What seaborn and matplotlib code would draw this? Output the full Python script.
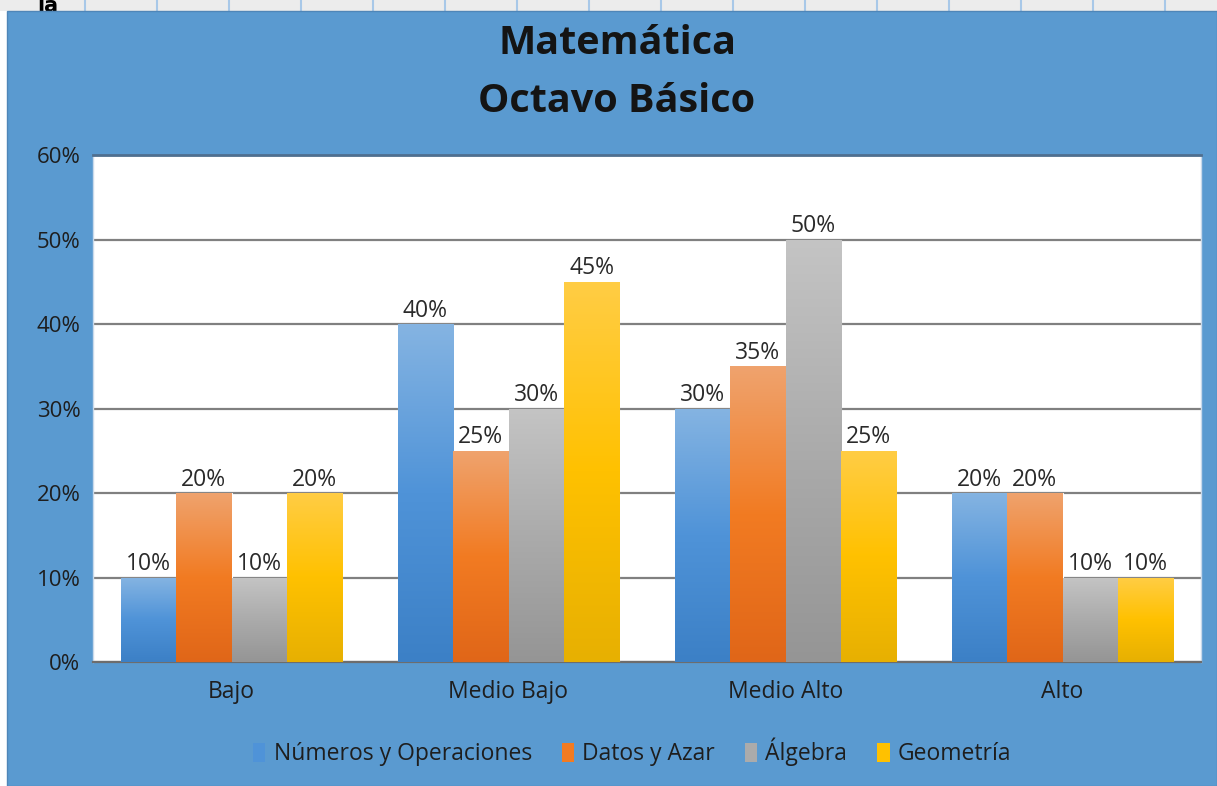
import numpy as np
import pandas as pd
import seaborn as sns
import matplotlib
matplotlib.use("Agg")
import matplotlib.pyplot as plt
from matplotlib.colors import LinearSegmentedColormap
from matplotlib.patches import Rectangle
from matplotlib.lines import Line2D

categories = ["Bajo", "Medio Bajo", "Medio Alto", "Alto"]
series = ["Números y Operaciones", "Datos y Azar", "Álgebra", "Geometría"]
numeros = [10, 40, 30, 20]
datos = [20, 25, 35, 20]
algebra = [10, 30, 50, 10]
geometria = [20, 45, 25, 10]
y_ticks = [0, 10, 20, 30, 40, 50, 60]

# gradient colours per series: top, middle, bottom
grads = {
    "Números y Operaciones": ["#85b4e2", "#4f93d8", "#3c80c6"],
    "Datos y Azar": ["#efa36e", "#f27b22", "#e06618"],
    "Álgebra": ["#c4c4c4", "#ababab", "#959595"],
    "Geometría": ["#ffcd45", "#ffc100", "#e7b002"],
}
solid = {k: v[1] for k, v in grads.items()}

rows = []
for name, vals in zip(series, [numeros, datos, algebra, geometria]):
    for cat, v in zip(categories, vals):
        rows.append({"nivel": cat, "eje": name, "pct": v})
df = pd.DataFrame(rows)

sns.set_theme(style="white")
plt.rcParams["font.family"] = ["Open Sans", "DejaVu Sans"]
FS = 16.5

W, H = 1217, 786
fig = plt.figure(figsize=(W / 100, H / 100), dpi=100, facecolor="white")

# spreadsheet strip behind the chart
fig.patches.append(Rectangle((0, 1 - 11 / H), 1, 11 / H, transform=fig.transFigure,
                             facecolor="#ececec", edgecolor="none", zorder=-3))
for px in range(85, W, 72):
    fig.lines.append(Line2D([px / W, px / W], [1 - 11 / H, 1], transform=fig.transFigure,
                            color="#a8c8e8", lw=1.5, zorder=-2.5))
fig.text(37 / W, 1 - 16 / H, "la", fontsize=15, fontweight="bold", color="black",
         family="DejaVu Sans", ha="left", va="bottom", zorder=-2.2)
# chart area
fig.patches.append(Rectangle((7 / W, 0), 1 - 7 / W, 1 - 11 / H, transform=fig.transFigure,
                             facecolor="#5a9ad0", edgecolor="#4f86b8", lw=1, zorder=-1))

ax = fig.add_axes([93 / W, 1 - 662 / H, (1201 - 93) / W, (662 - 155) / H])
ax.set_facecolor("white")

sns.barplot(data=df, x="nivel", y="pct", hue="eje", order=categories, hue_order=series,
            palette=solid, width=0.8, ax=ax, legend=False, errorbar=None,
            edgecolor="white", linewidth=0.8, zorder=3)

ax.set_ylim(0, 60)
ax.set_yticks(y_ticks)
ax.set_yticklabels([f"{t}%" for t in y_ticks], fontsize=FS - 0.5, color="#1e1e1e")
ax.set_xlabel("")
ax.set_ylabel("")
ax.tick_params(axis="x", labelsize=FS, colors="#1e1e1e", length=0, pad=13)
ax.tick_params(axis="y", length=0, pad=9)
ax.yaxis.grid(True, color="#808080", lw=1.6, zorder=0)
ax.set_axisbelow(True)
for side in ["left", "right"]:
    ax.spines[side].set_color("#c9d9ea")
    ax.spines[side].set_linewidth(1)
ax.spines["top"].set_color("#4f6f8f")
ax.spines["top"].set_linewidth(2)
ax.spines["bottom"].set_color("#6d6d6d")
ax.spines["bottom"].set_linewidth(1.6)

# gradient fills + value labels
grad_img = np.linspace(0, 1, 256).reshape(-1, 1)
for container, name in zip(ax.containers, series):
    cmap = LinearSegmentedColormap.from_list(name, grads[name][::-1])
    for bar in container:
        x0, w = bar.get_x(), bar.get_width()
        h = bar.get_height()
        im = ax.imshow(grad_img, cmap=cmap, origin="lower", aspect="auto",
                       extent=[x0, x0 + w, 0, h], zorder=3.5)
        im.set_clip_path(bar)
    ax.bar_label(container, labels=[f"{int(round(b.get_height()))}%" for b in container],
                 fontsize=FS, color="#2a2a2a", padding=1)
ax.set_xlim(-0.5, len(categories) - 0.5)
ax.set_ylim(0, 60)

for ty, txt in [(43, "Matemática"), (101, "Octavo Básico")]:
    fig.text(617 / W, 1 - ty / H, txt, fontsize=28.5, fontweight="bold", family="Open Sans",
             color="#141414", ha="center", va="center")

handles = [Rectangle((0, 0), 1, 1, facecolor=solid[s], edgecolor="none") for s in series]
fig.legend(handles, series, loc="center", bbox_to_anchor=(632 / W, 1 - 752 / H), ncol=4,
           frameon=False, fontsize=FS, handlelength=0.55, handleheight=0.9,
           handletextpad=0.35, columnspacing=1.3, labelcolor="#1e1e1e")

fig.savefig("out.png", dpi=100, facecolor=fig.get_facecolor())
